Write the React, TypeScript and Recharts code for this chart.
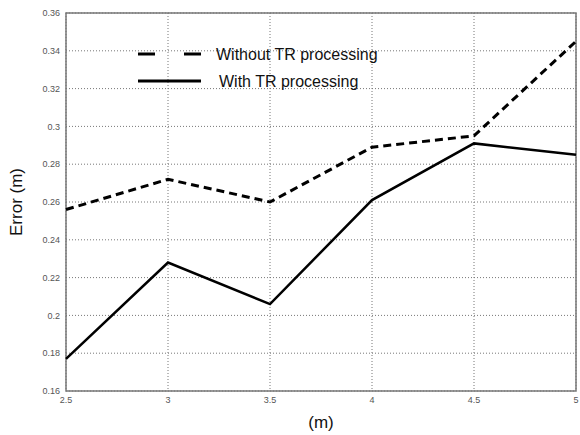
import React from "react"
import {
  LineChart,
  Line,
  XAxis,
  YAxis,
  CartesianGrid,
  ReferenceArea,
} from "recharts"

// distance values along the x axis
const distances = [2.5, 3, 3.5, 4, 4.5, 5]
const withoutTR = [0.256, 0.272, 0.26, 0.289, 0.295, 0.345]
const withTR = [0.177, 0.228, 0.206, 0.261, 0.291, 0.285]
const yTicks = [0.16, 0.18, 0.2, 0.22, 0.24, 0.26, 0.28, 0.3, 0.32, 0.34, 0.36]

const data = distances.map((d, i) => ({ d, without: withoutTR[i], with: withTR[i] }))

const font = "Arial, 'Liberation Sans', sans-serif"
const tickStyle = { fontSize: 9, fill: "#555", fontFamily: font }

function fmtTick(v: number) {
  return String(parseFloat(v.toFixed(2)))
}

function LegendBox() {
  return (
    <svg width={300} height={60} style={{ display: "block" }}>
      <line x1={8} y1={14} x2={25} y2={14} stroke="#000" strokeWidth={3} />
      <line x1={54} y1={14} x2={71} y2={14} stroke="#000" strokeWidth={3} />
      <text x={86} y={14} dy="0.35em" fontSize={16} fontFamily={font} fill="#111">
        Without TR processing
      </text>
      <line x1={8} y1={41} x2={71} y2={41} stroke="#000" strokeWidth={3} />
      <text x={89} y={41} dy="0.35em" fontSize={16} fontFamily={font} fill="#111">
        With TR processing
      </text>
    </svg>
  )
}

export default function App() {
  return (
    <div style={{ position: "absolute", left: 0, top: 0, width: 580, height: 435, background: "#fff" }}>
      <LineChart width={580} height={435} data={data} margin={{ top: 13, right: 4, bottom: 0, left: 0 }}>
        <CartesianGrid stroke="#777" strokeDasharray="1 2" />
        <XAxis
          dataKey="d"
          type="number"
          domain={[2.5, 5]}
          ticks={distances}
          tickFormatter={fmtTick}
          axisLine={false}
          tickLine={false}
          tick={tickStyle}
          height={44}
          dy={-2}
          label={{ value: "(m)", position: "insideBottom", offset: 7, fontSize: 17, fill: "#111", fontFamily: font }}
        />
        <YAxis
          type="number"
          domain={[0.16, 0.36]}
          ticks={yTicks}
          tickFormatter={fmtTick}
          axisLine={false}
          tickLine={false}
          tick={tickStyle}
          width={66}
          dx={2}
          label={{ value: "Error (m)", angle: -90, position: "insideLeft", offset: 16, fontSize: 17, fill: "#111", fontFamily: font, style: { textAnchor: "middle" } }}
        />
        <ReferenceArea x1={2.5} x2={5} y1={0.16} y2={0.36} fill="none" stroke="#777" strokeWidth={1.5} />
        <Line dataKey="without" stroke="#000" strokeWidth={3} strokeDasharray="8 5" dot={false} isAnimationActive={false} />
        <Line dataKey="with" stroke="#000" strokeWidth={2.5} dot={false} isAnimationActive={false} />
      </LineChart>
      <div style={{ position: "absolute", left: 130, top: 40 }}>
        <LegendBox />
      </div>
    </div>
  )
}
